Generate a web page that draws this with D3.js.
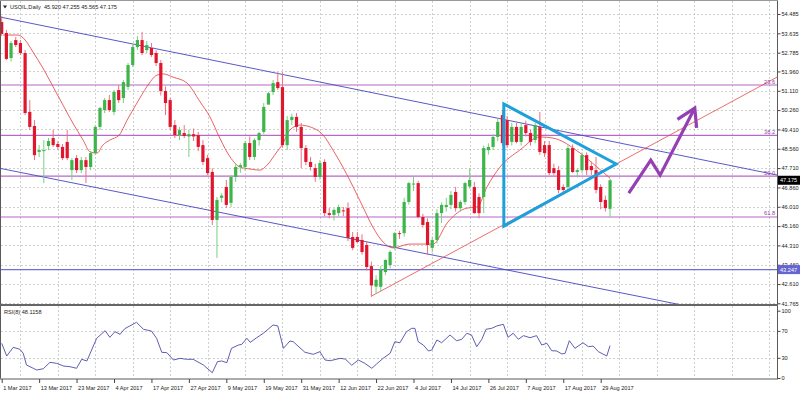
<!DOCTYPE html>
<html><head><meta charset="utf-8">
<script src="https://cdn.jsdelivr.net/npm/d3@7"></script>
<style>
body{margin:0;background:#fff;}
svg{display:block;font-family:"Liberation Sans",Arial,sans-serif;}
</style>
</head><body>
<svg id="c" width="800" height="394"></svg>
<script>
// ---------- DATA ----------
const title = "USOIL,Daily  45.920 47.255 45.565 47.175";
const rsiTitle = "RSI(8) 48.1158";
const dateLabels = ["1 Mar 2017","13 Mar 2017","23 Mar 2017","4 Apr 2017","17 Apr 2017","27 Apr 2017","9 May 2017","19 May 2017","31 May 2017","12 Jun 2017","22 Jun 2017","4 Jul 2017","14 Jul 2017","26 Jul 2017","7 Aug 2017","17 Aug 2017","29 Aug 2017"];
const dateLabelBars = [0,8,16,24,32,40,48,56,64,72,80,88,96,104,112,120,128];
const priceTicks = [54.485,53.635,52.785,51.960,51.110,50.260,49.410,48.560,47.710,46.860,46.010,45.160,44.310,43.460,42.610,41.765];
const rsiTicks = [100,70,30,0];
const rsiGrid = [70,30];
// candles: [open, high, low, close]
const opens  = [54.13,53.65,52.55,53.34,53.21,52.77,50.18,49.56,48.42,48.46,48.68,49.03,48.77,48.64,48.86,47.62,48.15,47.62,48.06,47.76,48.37,49.52,50.26,50.70,50.18,51.14,50.79,51.28,52.24,53.03,53.34,52.90,52.99,52.77,52.33,51.10,50.70,49.60,49.16,49.25,49.10,49.20,49.16,48.72,48.15,47.54,45.43,46.40,46.88,46.18,47.32,47.76,47.76,48.81,48.20,48.94,49.30,50.50,51.05,51.49,51.27,48.72,49.82,49.96,49.52,48.59,47.98,47.71,47.32,47.98,45.73,45.65,45.73,45.85,45.95,44.68,44.68,44.55,44.33,43.40,42.50,42.49,43.14,43.45,44.24,44.85,44.85,46.22,47.01,47.05,45.56,45.34,44.20,44.55,45.73,46.00,46.09,46.66,45.95,46.22,46.90,46.88,46.44,46.44,48.50,48.64,49.08,50.04,49.82,48.86,49.52,48.86,49.60,49.25,48.94,49.52,48.72,48.72,47.71,47.62,46.88,46.88,48.59,47.54,47.62,48.28,47.80,47.62,46.88,46.31,45.92];
const highs  = [54.40,53.78,53.30,53.47,53.34,52.90,50.70,49.82,48.72,48.94,49.03,49.39,48.90,48.77,49.39,48.15,48.28,48.20,48.20,48.46,49.60,50.40,50.79,50.92,51.14,51.36,51.58,52.33,53.12,53.52,53.70,53.30,53.21,52.90,52.46,51.30,50.79,49.82,49.52,49.60,49.39,49.45,49.30,48.94,48.30,47.70,46.44,46.60,47.19,47.40,47.90,47.93,48.90,49.10,49.03,49.30,50.57,51.06,51.58,51.93,51.93,50.00,50.10,50.13,49.70,48.72,48.20,47.90,48.06,48.10,45.95,45.95,46.10,46.00,46.20,44.90,44.90,44.80,44.50,43.60,43.00,43.40,43.70,44.10,44.90,44.95,46.40,47.10,47.32,47.15,45.70,45.50,44.70,45.90,46.20,46.40,46.70,46.88,46.30,47.10,47.70,47.10,46.60,48.70,48.80,49.20,49.90,50.26,50.00,49.70,49.70,49.70,49.80,49.40,49.70,50.18,48.90,48.90,47.90,47.80,47.00,48.70,48.75,47.70,48.40,48.40,48.00,48.20,47.00,46.50,47.255];
const lows   = [53.52,52.46,52.40,53.03,52.68,50.04,49.39,48.06,48.20,47.05,48.50,48.64,48.50,48.06,48.06,47.19,47.49,47.49,47.05,47.62,48.28,49.39,50.13,50.18,50.04,50.57,50.57,51.14,52.15,52.90,52.68,52.77,52.60,52.20,50.90,50.04,49.39,49.03,48.94,49.03,48.20,48.90,48.46,47.84,47.40,45.21,43.76,46.20,45.95,46.00,47.10,47.50,47.60,48.06,48.06,48.70,49.20,50.70,50.92,51.14,48.60,48.50,49.60,49.30,47.71,47.84,47.60,47.10,47.20,45.60,45.50,45.40,45.60,45.60,44.50,44.10,44.40,43.90,43.20,42.05,42.20,42.30,43.00,43.30,44.10,44.60,44.70,46.10,46.70,45.50,45.10,43.89,44.00,44.40,45.30,45.80,45.90,45.80,45.80,46.10,46.80,45.70,45.50,45.73,48.30,48.50,48.90,48.70,48.60,48.70,48.80,48.70,49.10,48.70,48.80,48.30,48.20,47.40,47.40,46.60,46.60,46.70,47.50,47.30,47.50,47.40,47.40,46.60,45.90,45.80,45.565];
const closes = [53.61,52.51,53.21,53.12,52.77,50.13,49.52,48.28,48.50,48.50,48.90,48.72,48.64,48.15,48.15,48.06,47.62,48.06,47.76,48.37,49.52,50.35,50.70,50.26,51.06,50.70,51.49,52.24,53.03,53.34,52.77,53.12,52.68,52.33,51.10,50.57,49.52,49.16,49.38,49.12,49.20,49.10,48.64,47.98,47.49,45.43,46.31,46.50,46.09,47.32,47.76,47.84,48.81,48.20,48.94,49.25,50.40,51.00,51.45,51.23,48.72,49.82,49.96,49.52,48.59,47.98,47.76,47.32,47.93,45.73,45.65,45.87,46.00,45.82,44.64,44.20,44.46,44.02,43.36,42.55,42.80,43.23,43.67,44.02,44.85,44.84,46.22,47.05,47.03,45.56,45.21,44.33,44.55,45.73,46.09,46.09,46.53,45.95,46.22,47.05,47.19,45.73,45.73,48.59,48.64,49.08,49.74,48.81,48.72,49.52,48.86,49.52,49.25,48.86,49.60,48.42,48.37,47.49,47.49,46.75,46.75,48.59,47.54,47.62,48.28,47.62,47.62,46.75,46.22,45.95,47.175];
// moving average: [bar, price]
const maBars   = [0.3,3.5,5,6.7,8.8,11,13.1,15.2,17.4,18.9,20.4,21.6,23.1,25.1,26.8,28.9,31,33.2,34.5,36.6,39.6,42.4,44.5,46.6,48.8,50.9,53.1,55.2,56.7,58.8,59.9,61.6,63.7,65.9,68.7,70.8,72.9,75.1,77.2,79.3,81.5,83.6,87.2,92.2,95.2,99.4,101.6,103.7,106.5,110.7,115,117.8,123.6,127.2,130];
const maValues = [53.56,53.56,53.34,52.81,52.11,51.28,50.48,49.69,48.94,48.42,48.37,48.72,48.94,49.16,49.82,50.57,51.28,51.80,51.85,51.71,51.45,50.62,49.96,49.03,48.20,47.76,47.67,47.62,47.84,48.42,48.72,49.39,49.60,49.52,49.16,48.50,47.76,46.88,46.00,45.12,44.46,44.20,44.37,44.37,45.30,45.95,46.00,46.88,47.76,48.50,49.08,49.03,48.37,47.76,47.27];
// RSI(8): [bar, value]
const rsiBars   = [0,1.07,2.48,3.9,4.6,5.3,6.75,7.5,8.9,10.3,11.75,13.2,14.6,16,17.1,18.2,20.3,22.1,23.1,24.2,25.3,26.3,28.8,30.3,32,33.1,34.2,35.3,36.7,38.1,39.5,40.9,43.1,45,46.1,47,48.1,49.1,50.6,51.3,52.4,53.1,54.5,55.9,58,59,60.2,61.6,62.3,64.8,66.6,68,69.1,70.2,72.3,73.4,74.8,76.2,77.6,79.1,80.1,81.5,83,84,85.1,86.5,87.6,88.3,89,90.1,91.2,91.9,93,94,95.8,97.2,98.3,99.4,100.4,101.5,102.6,103.5,104.7,105.8,107.2,108.2,109.3,110.4,111.5,112.9,114.3,115.4,116.5,117.5,118.6,119.7,120.4,121.3,122.5,124.2,125.4,126.4,127.5,129.3,130];
const rsiValues = [51.5,32.7,45.6,42.6,36.7,19.3,14.4,11.9,13.8,23.3,21.8,17.8,16.8,14.4,27.8,25.3,59,70.3,60.5,68.8,64.9,73.3,82.7,72.4,69.8,59,38.2,37.6,26.7,29.2,27.8,27.8,19.3,7.9,24.2,25.3,22.7,44.1,49,50,59,53,59.9,66.4,78.8,77.3,44.1,55,53.9,38.2,35.2,39.1,26.7,25.7,29.2,28.2,18.9,26.7,21.8,14.4,20.8,29.2,36.7,53.9,52.4,68.8,73.8,73.8,53.9,49,40.1,41.6,56.5,52.4,63.9,55.4,57.5,66.4,63.9,46.5,57.5,72.4,73.8,77.3,79.8,60.5,66.4,57.5,62.9,59.9,62.9,49,51.6,40.6,40.1,35.7,36.7,55.4,44.1,52.4,46.5,47.5,39.1,32.7,48.1];
// horizontal levels
const fibNames  = ["23.6","38.2","50.0","61.8"];
const fibPrices = [51.363,49.150,47.361,45.560];
const supportPrice = 43.247;
const lastPrice = 47.175;
// drawn objects: [bar, price]
const channelUpper = [[-0.36,54.353],[165.7,47.405]];
const channelLower = [[-0.36,47.70],[165.7,40.85]];
const risingLine   = [[79,42.08],[165.7,51.71]];
const triangle     = [[107.3,50.53],[107.3,45.16],[131.3,47.89]];
const arrowPath    = [[134.0,46.61],[138.7,48.06],[140.7,47.40],[148.1,50.35]];
const arrowHead    = [[144.4,49.85],[148.1,50.35],[148.5,49.48]];

// ---------- CHART ----------
const svg = d3.select("#c");
const PR = 777, PT = 1, SEP = 305, PB = 378.5;
const x  = d3.scaleLinear().domain([0,128]).range([1.7,600.7]);
const y  = d3.scaleLinear().domain([41.765,54.485]).range([303.3,14]);
const yr = d3.scaleLinear().domain([0,100]).range([378,310.7]);
const FS = 5.6;

const defs = svg.append("defs");
defs.append("clipPath").attr("id","cm").append("rect").attr("x",1).attr("y",PT).attr("width",PR-1).attr("height",SEP-PT-1);
defs.append("clipPath").attr("id","cr").append("rect").attr("x",1).attr("y",SEP+1).attr("width",PR-1).attr("height",PB-SEP-1);

// vertical grid (between date labels)
const gridBars = d3.range(4, 170, 8);
const gv = svg.append("g").attr("stroke","#c4c4c4").attr("stroke-dasharray","2,2").attr("stroke-width",0.8);
gridBars.forEach(b=>{
  const gx = Math.round(x(b))+0.5;
  if (gx < PR) {
    gv.append("line").attr("x1",gx).attr("x2",gx).attr("y1",PT).attr("y2",SEP-1);
    gv.append("line").attr("x1",gx).attr("x2",gx).attr("y1",SEP+1).attr("y2",PB);
  }
});
// horizontal grid
priceTicks.forEach(p=>{
  const gy = Math.round(y(p))+0.5;
  if (gy < SEP-1) gv.append("line").attr("x1",1).attr("x2",PR).attr("y1",gy).attr("y2",gy);
});
rsiGrid.forEach(v=>{
  const gy = Math.round(yr(v))+0.5;
  gv.append("line").attr("x1",1).attr("x2",PR).attr("y1",gy).attr("y2",gy);
});

const main = svg.append("g").attr("clip-path","url(#cm)");
const line = d3.line().x(d=>x(d[0])).y(d=>y(d[1]));

// fib levels
fibPrices.forEach((p,i)=>{
  main.append("line").attr("x1",1).attr("x2",PR).attr("y1",y(p)).attr("y2",y(p))
    .attr("stroke","#b868c8").attr("stroke-width",1.2);
  svg.append("text").attr("x",PR-2).attr("y",y(p)-1.5).attr("text-anchor","end")
    .attr("font-size",FS).attr("fill","#9040a8").text(fibNames[i]);
});
// support line
main.append("line").attr("x1",1).attr("x2",PR).attr("y1",y(supportPrice)).attr("y2",y(supportPrice))
  .attr("stroke","#7070d0").attr("stroke-width",1.3);
// channel
[channelUpper, channelLower].forEach(c=>{
  main.append("path").attr("d",line(c)).attr("fill","none").attr("stroke","#4646c0").attr("stroke-width",0.9);
});
// rising trend line
main.append("path").attr("d",line(risingLine)).attr("fill","none").attr("stroke","#e84848").attr("stroke-width",0.8);

// moving average
const maData = maBars.map((b,i)=>[b,maValues[i]]);
main.append("path").attr("d", d3.line().x(d=>x(d[0])).y(d=>y(d[1])).curve(d3.curveMonotoneX)(maData))
  .attr("fill","none").attr("stroke","#e63a3a").attr("stroke-width",0.8);

// candles
const cdata = opens.map((o,i)=>({i,o,h:highs[i],l:lows[i],c:closes[i]}));
const cg = main.append("g");
cdata.forEach(d=>{
  const up = d.c >= d.o;
  const col = up ? "#3db54b" : "#e0162e";
  const cx = x(d.i);
  cg.append("line").attr("x1",cx).attr("x2",cx).attr("y1",y(d.h)).attr("y2",y(d.l))
    .attr("stroke", up ? "#79cf83" : "#ee7080").attr("stroke-width",1);
  const top = y(Math.max(d.o,d.c)), bot = y(Math.min(d.o,d.c));
  cg.append("rect").attr("x",cx-1.6).attr("width",3.2).attr("y",top).attr("height",Math.max(1,bot-top)).attr("fill",col);
});

// triangle
main.append("path").attr("d", line(triangle)+"Z").attr("fill","none")
  .attr("stroke","#1ea0dc").attr("stroke-width",3).attr("stroke-linejoin","miter");
// arrow
main.append("path").attr("d", line(arrowPath)).attr("fill","none")
  .attr("stroke","#9440b4").attr("stroke-width",3.2).attr("stroke-linejoin","miter");
main.append("path").attr("d", line(arrowHead)).attr("fill","none")
  .attr("stroke","#9440b4").attr("stroke-width",3.2).attr("stroke-linejoin","miter");

// RSI
const rsiData = rsiBars.map((b,i)=>[b,rsiValues[i]]);
svg.append("g").attr("clip-path","url(#cr)").append("path")
  .attr("d", d3.line().x(d=>x(d[0])).y(d=>yr(d[1]))(rsiData))
  .attr("fill","none").attr("stroke","#4c4ca8").attr("stroke-width",0.9);

// frame
const fr = svg.append("g").attr("stroke","#5a5a5a");
fr.append("line").attr("x1",0.5).attr("x2",0.5).attr("y1",0).attr("y2",PB).attr("stroke-width",1);
fr.append("line").attr("x1",PR+0.5).attr("x2",PR+0.5).attr("y1",0).attr("y2",PB).attr("stroke-width",1);
fr.append("line").attr("x1",0).attr("x2",PR+1).attr("y1",SEP).attr("y2",SEP).attr("stroke-width",2).attr("stroke","#666");
fr.append("line").attr("x1",0).attr("x2",PR+1).attr("y1",PB+0.5).attr("y2",PB+0.5).attr("stroke-width",1);
fr.append("line").attr("x1",0).attr("x2",PR+1).attr("y1",0.5).attr("y2",0.5).attr("stroke-width",1).attr("stroke","#999");

// price axis
const pa = svg.append("g").attr("transform",`translate(${PR+0.5},0)`)
  .call(d3.axisRight(y).tickValues(priceTicks).tickSize(3).tickPadding(1).tickFormat(d3.format(".3f")));
pa.select(".domain").remove();
pa.selectAll("text").attr("font-size",FS).attr("fill","#222").attr("font-family","Liberation Sans, Arial, sans-serif");
pa.selectAll("line").attr("stroke","#444");
// rsi axis
const ra = svg.append("g").attr("transform",`translate(${PR+0.5},0)`)
  .call(d3.axisRight(yr).tickValues(rsiTicks).tickSize(3).tickPadding(1).tickFormat(d3.format("d")));
ra.select(".domain").remove();
ra.selectAll("text").attr("font-size",FS).attr("fill","#222").attr("font-family","Liberation Sans, Arial, sans-serif");
ra.selectAll("line").attr("stroke","#444");
// date axis
const da = svg.append("g").attr("transform",`translate(0,${PB+0.5})`)
  .call(d3.axisBottom(x).tickValues(dateLabelBars).tickSize(4).tickPadding(3).tickFormat((d,i)=>dateLabels[i]));
da.select(".domain").remove();
da.selectAll("text").attr("font-size",FS).attr("fill","#222").attr("text-anchor","start").attr("x",1)
  .attr("font-family","Liberation Sans, Arial, sans-serif");
da.selectAll("line").attr("stroke","#444");

// price tags
function tag(p, bg){
  const ty = y(p);
  svg.append("rect").attr("x",PR+1).attr("y",ty-4.5).attr("width",800-PR-1).attr("height",9).attr("fill",bg);
  svg.append("text").attr("x",PR+3).attr("y",ty).attr("dy","0.35em").attr("font-size",FS).attr("fill","#fff").text(d3.format(".3f")(p));
}
tag(lastPrice,"#000");
tag(supportPrice,"#6464d2");

// titles
svg.append("path").attr("d","M3,5.5 L7,5.5 L5,8.5 Z").attr("fill","#222");
svg.append("text").attr("x",10).attr("y",9).attr("font-size",FS).attr("fill","#222").attr("xml:space","preserve").text(title);
svg.append("text").attr("x",4).attr("y",314).attr("font-size",FS).attr("fill","#222").text(rsiTitle);
</script>
</body></html>
